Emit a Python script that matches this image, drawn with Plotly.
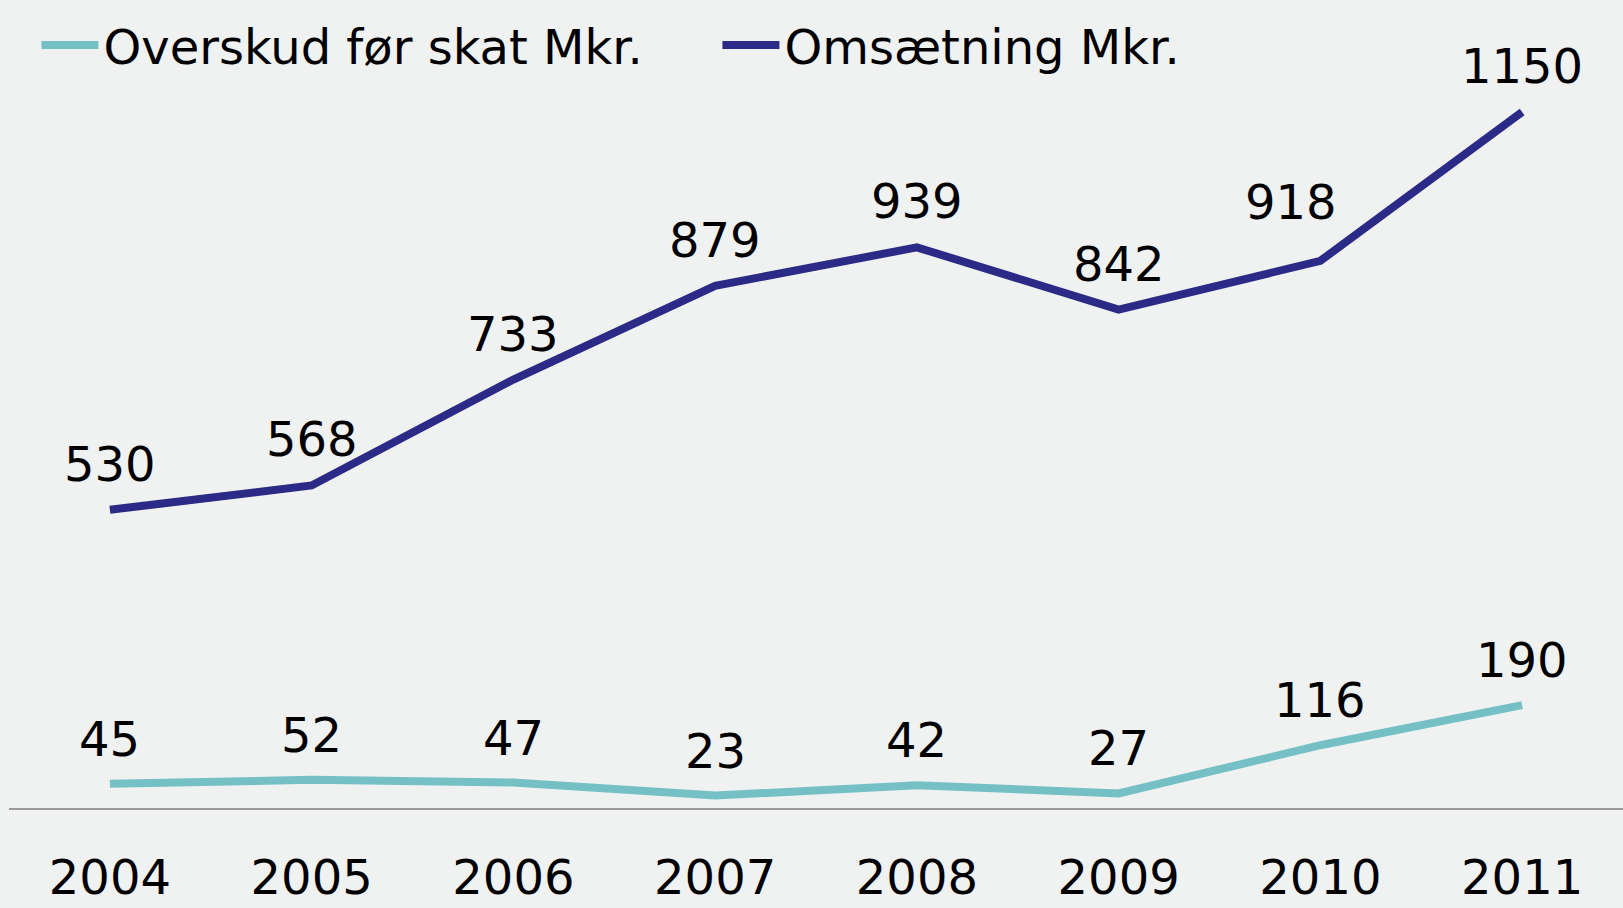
import plotly.graph_objects as go

years = ["2004", "2005", "2006", "2007", "2008", "2009", "2010", "2011"]
overskud = [45, 52, 47, 23, 42, 27, 116, 190]
omsaetning = [530, 568, 733, 879, 939, 842, 918, 1150]
name_overskud = "Overskud før skat Mkr."
name_omsaetning = "Omsætning Mkr."

TEAL = "#74C0C5"
NAVY = "#2B2A87"
BG = "#F0F2F1"
FONT = "DejaVu Sans"

fig = go.Figure()
fig.add_trace(go.Scatter(x=years, y=overskud, mode="lines", name=name_overskud,
                         line=dict(color=TEAL, width=8), yaxis="y"))
fig.add_trace(go.Scatter(x=years, y=omsaetning, mode="lines", name=name_omsaetning,
                         line=dict(color=NAVY, width=8), yaxis="y2"))

# data labels (category axis annotations take the category index as x)
omsaetning_shift = [(0, 46)] * 6 + [(-29, 59), (0, 46)]
for i, v in enumerate(overskud):
    fig.add_annotation(x=i, y=v, xref="x", yref="y", text=str(v), showarrow=False,
                       yshift=45, font=dict(family=FONT, size=48, color="black"))
for i, v in enumerate(omsaetning):
    dx, dy = omsaetning_shift[i]
    fig.add_annotation(x=i, y=v, xref="x", yref="y2", text=str(v), showarrow=False,
                       xshift=dx, yshift=dy, font=dict(family=FONT, size=48, color="black"))

hidden_axis = dict(showgrid=False, zeroline=False, showline=False,
                   showticklabels=False, ticks="")

fig.update_layout(
    width=1623, height=908,
    margin=dict(l=9, r=0, t=0, b=100),
    paper_bgcolor=BG, plot_bgcolor=BG,
    font=dict(family=FONT, size=48, color="black"),
    showlegend=True,
    legend=dict(orientation="h", x=0.017, xanchor="left", y=0.991, yanchor="top",
                bgcolor="rgba(0,0,0,0)", font=dict(family=FONT, size=48, color="black"),
                itemwidth=57, entrywidth=609, entrywidthmode="pixels"),
    xaxis=dict(type="category", range=[-0.5, 7.5], showgrid=False, zeroline=False,
               showline=True, linecolor="#9A9A9A", linewidth=1.5, automargin=False,
               ticks="", ticklabelstandoff=27,
               tickfont=dict(family=FONT, size=48, color="black")),
    yaxis=dict(range=[0, 1493], automargin=False, **hidden_axis),
    yaxis2=dict(range=[65.4, 1324.4], overlaying="y", automargin=False, **hidden_axis),
)

fig.write_html("out.html", config={"displayModeBar": False},
               post_script="document.body.style.margin='0';")
